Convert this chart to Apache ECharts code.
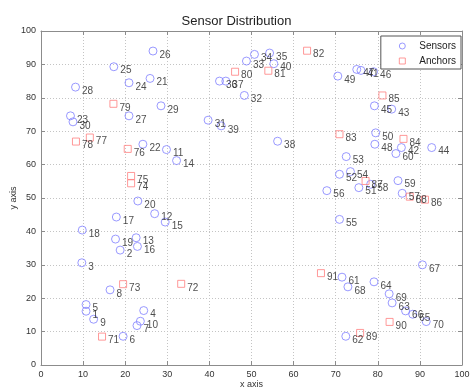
<!DOCTYPE html>
<html>
<head>
<meta charset="utf-8">
<script src="https://cdn.jsdelivr.net/npm/echarts@6/dist/echarts.min.js"></script>
<style>html,body{margin:0;padding:0;background:#fff}#c{width:473px;height:389px}</style>
</head>
<body>
<div id="c"></div>
<script>
var sensorIds = [1,2,3,4,5,6,7,8,9,10,11,12,13,14,15,16,17,18,19,20,21,22,23,24,25,26,27,28,29,30,31,32,33,34,35,36,37,38,39,40,41,42,43,44,45,46,47,48,49,50,51,52,53,54,55,56,57,58,59,60,61,62,63,64,65,66,67,68,69,70];
var sensorX = [10.7,18.8,9.7,24.4,10.7,19.5,22.8,16.4,12.5,23.6,29.8,27.0,22.6,32.2,29.5,22.9,17.9,9.8,17.7,23.0,25.9,24.2,7.0,20.9,17.3,26.6,20.9,8.2,28.5,7.6,39.7,48.3,48.8,50.7,54.3,42.4,43.9,56.2,42.8,55.3,76.0,85.6,83.3,92.8,79.2,79.0,75.0,79.3,70.5,79.5,75.5,70.9,72.5,73.5,70.9,67.9,85.8,78.3,84.8,84.3,71.5,72.4,83.4,79.1,88.3,86.6,90.6,72.9,82.7,91.5];
var sensorY = [16.1,34.4,30.6,16.3,18.1,8.6,11.8,22.5,13.7,13.1,64.5,45.3,38.1,61.2,42.8,35.5,44.3,40.4,37.7,49.1,85.8,66.1,74.6,84.5,89.3,94.0,74.6,83.2,77.6,72.8,73.3,80.7,91.0,93.0,93.4,85.0,85.0,67.0,71.6,90.2,88.2,65.1,76.6,65.1,77.6,87.8,88.5,66.1,86.5,69.5,53.1,57.1,62.4,57.9,43.6,52.2,51.4,54.1,55.2,63.3,26.3,8.6,18.6,24.9,15.2,16.2,30.0,23.4,21.3,13.0];
var anchorIds = [71,72,73,74,75,76,77,78,79,80,81,82,83,84,85,86,87,88,89,90,91];
var anchorX = [14.5,33.3,19.5,21.4,21.4,20.6,11.6,8.3,17.2,46.1,54.0,63.2,70.9,86.1,81.1,91.2,77.1,87.6,75.8,82.8,66.5];
var anchorY = [8.5,24.3,24.2,54.4,56.6,64.7,68.1,66.9,78.2,87.8,88.1,94.1,69.1,67.7,80.7,49.5,55.1,50.4,9.6,12.9,27.5];
var xTicks = [0,10,20,30,40,50,60,70,80,90,100];
var yTicks = [0,10,20,30,40,50,60,70,80,90,100];

function pts(xs, ys, ids){ return xs.map(function(x,i){ return [x, ys[i], ids[i]]; }); }

var FONT = 'Liberation Sans, Arial, sans-serif';
var chart = echarts.init(document.getElementById('c'), null, {renderer:'canvas'});
var labelCfg = {show:true, position:'right', distance:2, offset:[0,4], fontSize:10, color:'#222', fontFamily:FONT, formatter:function(p){return p.value[2];}};
var baseAxis = {
  min: xTicks[0], max: xTicks[xTicks.length-1], interval: 10,
  axisLine:{show:true, onZero:false, lineStyle:{color:'#8c8c8c', width:1}},
  axisTick:{show:true, inside:true, length:4, lineStyle:{color:'#8c8c8c'}},
  axisLabel:{show:true, fontSize:9, color:'#333', fontFamily:FONT, margin:5},
  splitLine:{show:true, lineStyle:{color:'#c4c4c4', type:[1,2], width:1}}
};
function clone(o){return JSON.parse(JSON.stringify(o));}
var xb = clone(baseAxis); xb.type='value'; xb.position='bottom'; xb.name='x axis'; xb.nameLocation='middle'; xb.nameGap=15; xb.nameMoveOverlap=false; xb.nameTextStyle={fontSize:9,color:'#333',fontFamily:FONT};
var xt = clone(baseAxis); xt.type='value'; xt.position='top'; xt.axisLabel={show:false}; xt.splitLine={show:false};
var yl = clone(baseAxis); yl.type='value'; yl.min=yTicks[0]; yl.max=yTicks[yTicks.length-1]; yl.position='left'; yl.name='y axis'; yl.nameLocation='middle'; yl.nameGap=23; yl.nameMoveOverlap=false; yl.nameTextStyle={fontSize:9,color:'#333',fontFamily:FONT};
var yr = clone(baseAxis); yr.type='value'; yr.min=yTicks[0]; yr.max=yTicks[yTicks.length-1]; yr.position='right'; yr.axisLabel={show:false}; yr.splitLine={show:false};

chart.setOption({
  animation:false,
  backgroundColor:'#fff',
  textStyle:{fontFamily:FONT},
  title:{text:'Sensor Distribution', left:'center', top:10, textStyle:{fontSize:13, fontWeight:'normal', color:'#222', fontFamily:FONT}},
  grid:{left:41, right:11, top:31, bottom:24, containLabel:false, outerBoundsMode:'none'},
  legend:{
    orient:'vertical', right:12, top:36,
    itemWidth:6, itemHeight:6, itemGap:5,
    padding:[5,5,3,18],
    borderColor:'#555', borderWidth:1, backgroundColor:'#fff', borderRadius:0,
    itemStyle:{borderWidth:1},
    textStyle:{fontSize:10, color:'#222', fontFamily:FONT, padding:[0,0,0,9]},
    data:['Sensors','Anchors']
  },
  xAxis:[xb, xt],
  yAxis:[yl, yr],
  series:[
    {name:'Sensors', type:'scatter', symbol:'circle', symbolSize:8, xAxisIndex:0, yAxisIndex:0,
     itemStyle:{color:'rgba(255,255,255,0)', borderColor:'#8080ff', borderWidth:1},
     label:labelCfg, emphasis:{disabled:true},
     data:pts(sensorX, sensorY, sensorIds)},
    {name:'Anchors', type:'scatter', symbol:'rect', symbolSize:7, xAxisIndex:0, yAxisIndex:0,
     itemStyle:{color:'rgba(255,255,255,0)', borderColor:'#ff7f7f', borderWidth:1},
     label:labelCfg, emphasis:{disabled:true},
     data:pts(anchorX, anchorY, anchorIds)}
  ]
});
</script>
</body>
</html>
